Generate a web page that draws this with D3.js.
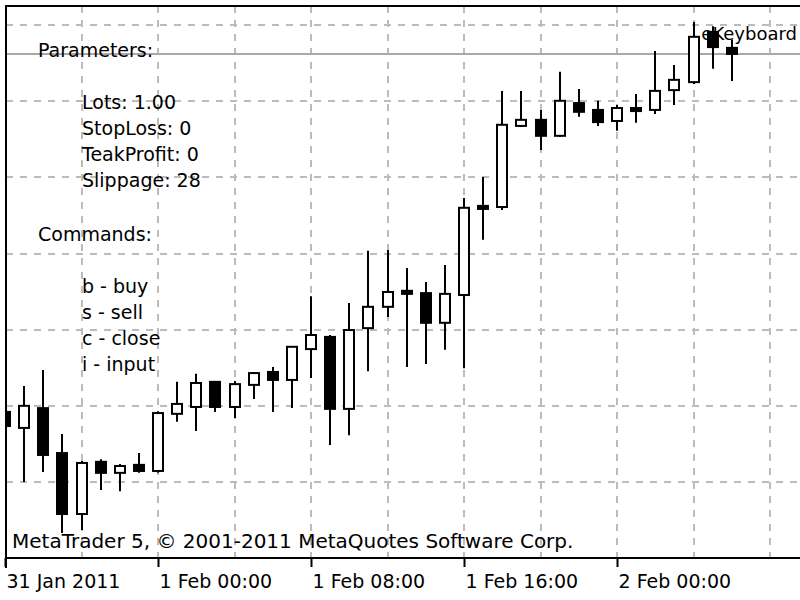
<!DOCTYPE html>
<html>
<head>
<meta charset="utf-8">
<script src="https://cdn.jsdelivr.net/npm/d3@7/dist/d3.min.js"></script>
<style>
    body { margin: 0; background: #fff; }
    svg { display: block; }
    .chart-text { font-family: "DejaVu Sans", sans-serif; font-size: 19px; fill: #000; }
    .label-text { font-family: "DejaVu Sans", sans-serif; font-size: 18px; fill: #000; }
    .copyright-text { font-family: "DejaVu Sans", sans-serif; font-size: 20px; fill: #000; }
    .axis-text { font-family: "DejaVu Sans", sans-serif; font-size: 19px; fill: #000; }
</style>
</head>
<body>
<div id="chart"><svg></svg></div>
<script>
// H1 bars, EURUSD-like
var barTimes = [
    "2011-01-31 16:00", "2011-01-31 17:00", "2011-01-31 18:00", "2011-01-31 19:00",
    "2011-01-31 20:00", "2011-01-31 21:00", "2011-01-31 22:00", "2011-01-31 23:00",
    "2011-02-01 00:00", "2011-02-01 01:00", "2011-02-01 02:00", "2011-02-01 03:00",
    "2011-02-01 04:00", "2011-02-01 05:00", "2011-02-01 06:00", "2011-02-01 07:00",
    "2011-02-01 08:00", "2011-02-01 09:00", "2011-02-01 10:00", "2011-02-01 11:00",
    "2011-02-01 12:00", "2011-02-01 13:00", "2011-02-01 14:00", "2011-02-01 15:00",
    "2011-02-01 16:00", "2011-02-01 17:00", "2011-02-01 18:00", "2011-02-01 19:00",
    "2011-02-01 20:00", "2011-02-01 21:00", "2011-02-01 22:00", "2011-02-01 23:00",
    "2011-02-02 00:00", "2011-02-02 01:00", "2011-02-02 02:00", "2011-02-02 03:00",
    "2011-02-02 04:00", "2011-02-02 05:00", "2011-02-02 06:00"
];
var opens = [
    1.37184, 1.37142, 1.37194, 1.37076, 1.36916, 1.37053, 1.37024, 1.37045,
    1.37029, 1.37179, 1.37197, 1.37263, 1.37197, 1.37255, 1.37289, 1.37268,
    1.37349, 1.37381, 1.37192, 1.37404, 1.37460, 1.37502, 1.37496, 1.37418,
    1.37491, 1.37725, 1.37722, 1.37935, 1.37951, 1.37909, 1.37995, 1.37977,
    1.37948, 1.37982, 1.37977, 1.38029, 1.38050, 1.38182, 1.38140
];
var highs = [
    1.37189, 1.37252, 1.37294, 1.37126, 1.37055, 1.37060, 1.37047, 1.37076,
    1.37186, 1.37263, 1.37284, 1.37265, 1.37265, 1.37289, 1.37302, 1.37357,
    1.37488, 1.37386, 1.37470, 1.37607, 1.37609, 1.37562, 1.37525, 1.37570,
    1.37746, 1.37801, 1.38027, 1.38027, 1.37977, 1.38077, 1.38032, 1.38001,
    1.37990, 1.38019, 1.38132, 1.38095, 1.38208, 1.38197, 1.38161
];
var lows = [
    1.37142, 1.37000, 1.37026, 1.36866, 1.36874, 1.36979, 1.36976, 1.37024,
    1.37024, 1.37158, 1.37134, 1.37184, 1.37168, 1.37218, 1.37184, 1.37194,
    1.37273, 1.37097, 1.37123, 1.37291, 1.37433, 1.37302, 1.37310, 1.37347,
    1.37299, 1.37636, 1.37714, 1.37932, 1.37872, 1.37906, 1.37959, 1.37935,
    1.37922, 1.37943, 1.37966, 1.37990, 1.38045, 1.38085, 1.38053
];
var closes = [
    1.37147, 1.37200, 1.37071, 1.36916, 1.37050, 1.37024, 1.37042, 1.37029,
    1.37181, 1.37205, 1.37260, 1.37197, 1.37257, 1.37286, 1.37268, 1.37355,
    1.37386, 1.37192, 1.37399, 1.37460, 1.37499, 1.37494, 1.37418, 1.37494,
    1.37720, 1.37717, 1.37938, 1.37951, 1.37909, 1.38001, 1.37972, 1.37945,
    1.37982, 1.37974, 1.38027, 1.38056, 1.38169, 1.38142, 1.38124
];

var priceLevels = [1.3700, 1.3720, 1.3740, 1.3760, 1.3780, 1.3800, 1.3820];
var gridTimes = [
    "2011-01-31 20:00", "2011-02-01 00:00", "2011-02-01 04:00", "2011-02-01 08:00",
    "2011-02-01 12:00", "2011-02-01 16:00", "2011-02-01 20:00", "2011-02-02 00:00",
    "2011-02-02 04:00", "2011-02-02 08:00"
];
var tickTimes = ["2011-01-31 16:00", "2011-02-01 00:00", "2011-02-01 08:00", "2011-02-01 16:00", "2011-02-02 00:00"];
var tickLabels = ["31 Jan 2011", "1 Feb 00:00", "1 Feb 08:00", "1 Feb 16:00", "2 Feb 00:00"];

var paramLines = ["Lots: 1.00", "StopLoss: 0", "TeakProfit: 0", "Slippage: 28"];
var commandLines = ["b - buy", "s - sell", "c - close", "i - input"];
var expertName = "eKeyboard";
var copyright = "MetaTrader 5, \u00A9 2001-2011 MetaQuotes Software Corp.";

var width = 800,
    height = 600,
    frame = { left: 6, top: 6, bottom: 558 },
    parseTime = d3.utcParse("%Y-%m-%d %H:%M");

var bars = barTimes.map(function(t, i) {
    return { time: parseTime(t), open: opens[i], high: highs[i], low: lows[i], close: closes[i] };
});

var x = d3.scaleUtc()
    .domain([parseTime("2011-01-31 16:00"), parseTime("2011-02-02 08:00")])
    .range([5, 770]);

var y = d3.scaleLinear()
    .domain([1.3700, 1.3820])
    .range([482, 25]);

var svg = d3.select("#chart svg")
    .attr("width", width)
    .attr("height", height);

svg.append("rect")
    .attr("width", width)
    .attr("height", height)
    .attr("fill", "#fff");

svg.append("defs").append("clipPath")
    .attr("id", "plot-clip")
    .append("rect")
    .attr("x", frame.left + 1)
    .attr("y", frame.top + 1)
    .attr("width", width - frame.left - 1)
    .attr("height", frame.bottom - frame.top - 2);

var plot = svg.append("g").attr("clip-path", "url(#plot-clip)");

// grid
plot.append("g")
    .selectAll("line")
    .data(gridTimes)
    .enter()
    .append("line")
        .attr("x1", function(d) { return Math.round(x(parseTime(d))); })
        .attr("x2", function(d) { return Math.round(x(parseTime(d))); })
        .attr("y1", frame.top)
        .attr("y2", frame.bottom)
        .attr("stroke", "#bcbcbc")
        .attr("stroke-width", 2)
        .attr("stroke-dasharray", "7,7");

plot.append("g")
    .selectAll("line")
    .data(priceLevels)
    .enter()
    .append("line")
        .attr("x1", frame.left)
        .attr("x2", width)
        .attr("y1", function(d) { return Math.round(y(d)); })
        .attr("y2", function(d) { return Math.round(y(d)); })
        .attr("stroke", "#bcbcbc")
        .attr("stroke-width", 2)
        .attr("stroke-dasharray", "7,7");

// bid line at the last close
var lastClose = closes[closes.length - 1];
plot.append("line")
    .attr("x1", frame.left)
    .attr("x2", width)
    .attr("y1", Math.round(y(lastClose)))
    .attr("y2", Math.round(y(lastClose)))
    .attr("stroke", "#a8a8a8")
    .attr("stroke-width", 2);

// candles
var candles = plot.append("g")
    .selectAll("g")
    .data(bars)
    .enter()
    .append("g");

candles.append("line")
    .attr("x1", function(d) { return Math.round(x(d.time)); })
    .attr("x2", function(d) { return Math.round(x(d.time)); })
    .attr("y1", function(d) { return y(d.high); })
    .attr("y2", function(d) { return y(d.low); })
    .attr("stroke", "#000")
    .attr("stroke-width", 2);

candles.append("rect")
    .attr("x", function(d) { return Math.round(x(d.time)) - 5; })
    .attr("width", 10)
    .attr("y", function(d) { return y(Math.max(d.open, d.close)); })
    .attr("height", function(d) { return Math.max(1, Math.abs(y(d.open) - y(d.close))); })
    .attr("fill", function(d) { return d.close >= d.open ? "#fff" : "#000"; })
    .attr("stroke", "#000")
    .attr("stroke-width", 2);

// frame
svg.append("line")
    .attr("x1", frame.left).attr("x2", width)
    .attr("y1", frame.top).attr("y2", frame.top)
    .attr("stroke", "#000").attr("stroke-width", 2);

svg.append("line")
    .attr("x1", frame.left).attr("x2", frame.left)
    .attr("y1", frame.top - 1).attr("y2", frame.bottom + 10)
    .attr("stroke", "#000").attr("stroke-width", 2);

svg.append("line")
    .attr("x1", frame.left).attr("x2", width)
    .attr("y1", frame.bottom).attr("y2", frame.bottom)
    .attr("stroke", "#000").attr("stroke-width", 2);

// time axis
var axis = svg.append("g")
    .attr("transform", "translate(0," + frame.bottom + ")")
    .call(d3.axisBottom(x)
        .tickValues(tickTimes.map(parseTime))
        .tickSize(9)
        .tickFormat(function(d, i) { return tickLabels[i]; }));

axis.select(".domain").remove();
axis.selectAll(".tick line")
    .attr("stroke", "#000")
    .attr("stroke-width", 2);
axis.selectAll(".tick text")
    .attr("class", "axis-text")
    .attr("text-anchor", "start")
    .attr("x", 1)
    .attr("y", 30)
    .attr("dy", null)
    .attr("fill", "#000");
axis.attr("font-family", null).attr("font-size", null);

// comment block drawn by the expert
var notes = svg.append("g");

notes.append("text")
    .attr("class", "chart-text")
    .attr("x", 38)
    .attr("y", 57)
    .text("Parameters:");

notes.append("g")
    .selectAll("text")
    .data(paramLines)
    .enter()
    .append("text")
        .attr("class", "chart-text")
        .attr("x", 82)
        .attr("y", function(d, i) { return 109 + i * 26; })
        .text(function(d) { return d; });

notes.append("text")
    .attr("class", "chart-text")
    .attr("x", 38)
    .attr("y", 241)
    .text("Commands:");

notes.append("g")
    .selectAll("text")
    .data(commandLines)
    .enter()
    .append("text")
        .attr("class", "chart-text")
        .attr("x", 82)
        .attr("y", function(d, i) { return 293 + i * 26; })
        .text(function(d) { return d; });

// expert name sits in the top right corner
notes.append("text")
    .attr("class", "label-text")
    .attr("x", 797)
    .attr("y", 40)
    .attr("text-anchor", "end")
    .text(expertName);

notes.append("text")
    .attr("class", "copyright-text")
    .attr("x", 12)
    .attr("y", 548)
    .text(copyright);
</script>
</body>
</html>
